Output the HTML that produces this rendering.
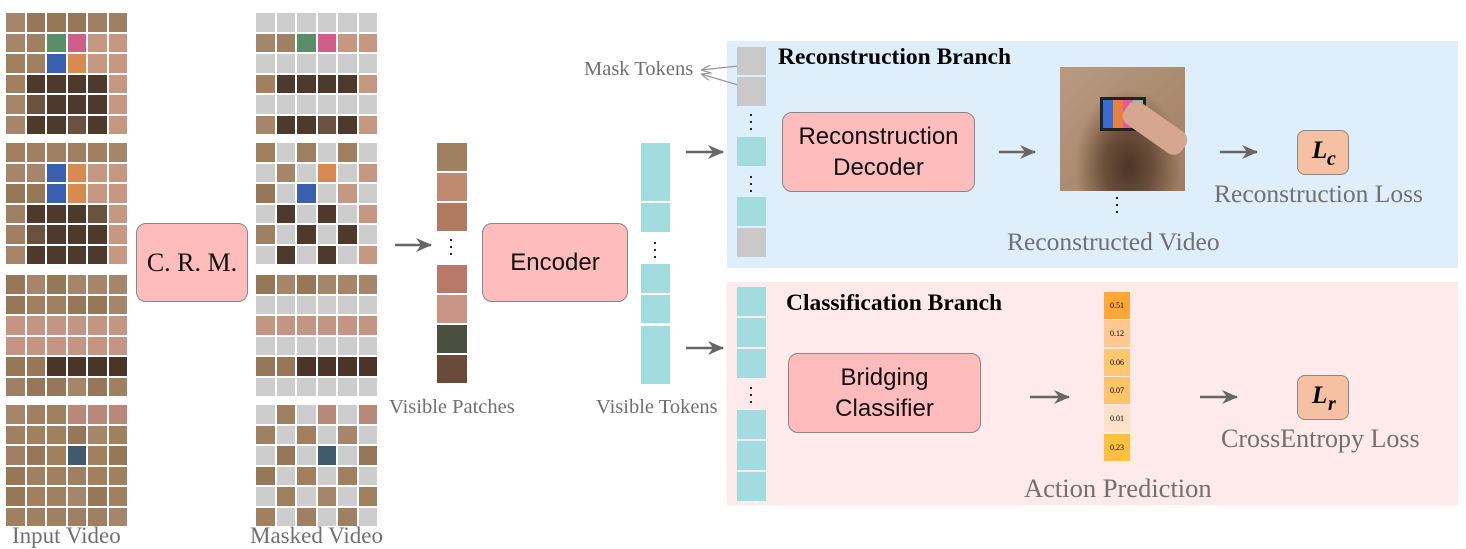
<!DOCTYPE html>
<html><head><meta charset="utf-8"><style>
body{margin:0;width:1466px;height:548px;background:#fff;position:relative;overflow:hidden;font-family:"Liberation Serif",serif}
.a{position:absolute}
.box{position:absolute;background:#ffbcbc;border:1.5px solid #888;border-radius:10px;display:flex;align-items:center;justify-content:center;text-align:center;font-size:24px;color:#111;line-height:31px;box-sizing:border-box;font-family:"Liberation Sans",sans-serif}
.lab{position:absolute;color:#707070;white-space:nowrap}
.c{position:absolute;background:#a3dcdf}
.g{position:absolute;background:#c9c9c9}
.dots{position:absolute;font-size:18px;line-height:7px;color:#000;width:10px;text-align:center}
.L{position:absolute;background:#f5c1a2;border:1.5px solid #888;border-radius:8px;box-sizing:border-box;font-style:italic;font-weight:bold;font-size:25px;color:#000}
</style></head><body>
<div class="a" style="left:727px;top:41px;width:731px;height:227px;background:#deeefb"></div>
<div class="a" style="left:727px;top:282px;width:731px;height:223px;background:#feeaea"></div>
<div id="grids"></div>
<svg class="a" style="left:0;top:0" width="1466" height="548">
<defs><marker id="ah" markerWidth="16" markerHeight="14" refX="15" refY="7" orient="auto" markerUnits="userSpaceOnUse"><path d="M0,0 L16,7 L0,14 L5,7z" fill="#666"/></marker>
<marker id="ah2" markerWidth="10" markerHeight="8" refX="0" refY="4" orient="auto" markerUnits="userSpaceOnUse"><path d="M10,0 L0,4 L10,8" fill="none" stroke="#999" stroke-width="1.2"/></marker></defs>
<g stroke="#666" stroke-width="2.5" marker-end="url(#ah)">
<line x1="395" y1="245" x2="431" y2="245"/><line x1="686" y1="152" x2="723" y2="152"/><line x1="686" y1="348" x2="723" y2="348"/>
<line x1="999" y1="152" x2="1035" y2="152"/><line x1="1220" y1="152" x2="1257" y2="152"/>
<line x1="1030" y1="397" x2="1069" y2="397"/><line x1="1200" y1="397" x2="1237" y2="397"/></g>
<g stroke="#999" stroke-width="1.2" marker-start="url(#ah2)"><line x1="701" y1="70" x2="738" y2="66"/><line x1="701" y1="74" x2="738" y2="85"/></g>
</svg>
<div class="box" style="left:136px;top:223px;width:112px;height:79px;font-family:'Liberation Serif',serif;font-size:26px">C. R. M.</div>
<div class="box" style="left:482px;top:223px;width:146px;height:79px">Encoder</div>
<div class="box" style="left:782px;top:112px;width:193px;height:80px">Reconstruction<br>Decoder</div>
<div class="box" style="left:788px;top:353px;width:193px;height:80px">Bridging<br>Classifier</div>
<div class="L" style="left:1297px;top:130px;width:52px;height:45px"><span class="a" style="left:14px;top:6px">L</span><span class="a" style="left:29px;top:17px;font-size:20px">c</span></div>
<div class="L" style="left:1297px;top:375px;width:52px;height:45px"><span class="a" style="left:14px;top:6px">L</span><span class="a" style="left:30px;top:17px;font-size:20px">r</span></div>
<div class="a" style="left:778px;top:44px;font-weight:bold;font-size:23.5px">Reconstruction Branch</div>
<div class="a" style="left:786px;top:290px;font-weight:bold;font-size:23.5px">Classification Branch</div>
<div class="lab" style="left:584px;top:58px;font-size:20.5px">Mask Tokens</div>
<div class="lab" style="left:389px;top:396px;font-size:20.5px">Visible Patches</div>
<div class="lab" style="left:596px;top:396px;font-size:20.5px">Visible Tokens</div>
<div class="lab" style="left:12px;top:523px;font-size:23px">Input Video</div>
<div class="lab" style="left:250px;top:523px;font-size:23px">Masked Video</div>
<div class="lab" style="left:1007px;top:227px;font-size:25.5px">Reconstructed Video</div>
<div class="lab" style="left:1214px;top:179px;font-size:25.5px">Reconstruction Loss</div>
<div class="lab" style="left:1221px;top:424px;font-size:26px">CrossEntropy Loss</div>
<div class="lab" style="left:1024px;top:473px;font-size:26.5px">Action Prediction</div>
<div class="a" style="left:1060px;top:67px;width:125px;height:124px;background:radial-gradient(ellipse at 55% 80%,#4a3426 0%,#6b4e3a 25%,transparent 55%),linear-gradient(135deg,#b99a80,#a07e62)"></div>
<div class="a" style="left:1100px;top:97px;width:40px;height:28px;background:linear-gradient(90deg,#3a6bd0 25%,#e88040 25% 50%,#e45a9a 50% 75%,#70c8a8 75%);border:3px solid #222"></div>
<div class="a" style="left:1120px;top:115px;width:70px;height:26px;background:#d6a690;transform:rotate(35deg);border-radius:10px"></div>
<div class="dots" style="left:1112px;top:195px">·<br>·<br>·</div>
<div class="g" style="left:737px;top:47px;width:29px;height:28px"></div>
<div class="g" style="left:737px;top:77px;width:29px;height:29px"></div>
<div class="dots" style="left:746px;top:112px">·<br>·<br>·</div>
<div class="c" style="left:737px;top:137px;width:29px;height:29px"></div>
<div class="dots" style="left:746px;top:174px">·<br>·<br>·</div>
<div class="c" style="left:737px;top:197px;width:29px;height:29px"></div>
<div class="g" style="left:737px;top:228px;width:29px;height:29px"></div>
<div class="c" style="left:737px;top:287px;width:29px;height:29px"></div>
<div class="c" style="left:737px;top:318px;width:29px;height:29px"></div>
<div class="c" style="left:737px;top:349px;width:29px;height:29px"></div>
<div class="dots" style="left:746px;top:385px">·<br>·<br>·</div>
<div class="c" style="left:737px;top:410px;width:29px;height:29px"></div>
<div class="c" style="left:737px;top:441px;width:29px;height:29px"></div>
<div class="c" style="left:737px;top:472px;width:29px;height:29px"></div>
<div class="c" style="left:641px;top:143px;width:29px;height:58px"></div>
<div class="c" style="left:641px;top:203px;width:29px;height:29px"></div>
<div class="dots" style="left:650px;top:240px">·<br>·<br>·</div>
<div class="c" style="left:641px;top:264px;width:29px;height:29px"></div>
<div class="c" style="left:641px;top:295px;width:29px;height:28px"></div>
<div class="c" style="left:641px;top:326px;width:29px;height:58px"></div>
<div id="vp"></div>
<div class="dots" style="left:446px;top:237px">·<br>·<br>·</div>
<div id="pred"></div>
<script>
function rnd(s){let x=Math.sin(s*9301+49297)*10000;return x-Math.floor(x);}
const sand=['#9f8062','#a5866a','#967858','#a0805f'];
function col(f,r,c){
  const s=rnd(f*100+r*10+c);
  if(f<2&&r>=3&&c>=1&&c<=4) return s>0.4?'#4e3a2c':'#6b5140';
  if(f<2&&r>=1&&r<=2&&c>=2&&c<=3) return ['#3a5fb0','#d88a50','#d05d8a','#5a8e6a'][Math.floor(s*4)];
  if(f<2&&c>=4&&r>=1) return '#c69882';
  if(f==2&&r>=2&&r<=3) return '#c49582';
  if(f==2&&r==4&&c>=2) return '#4a3528';
  if(f==3&&r==2&&c==3) return '#3f5a6a';
  if(f==3&&(r==0&&c>=3)) return '#b88878';
  return sand[Math.floor(s*4)];
}
function masked(f,r,c){
  if(f==0) return r%2==0;
  if(f==2) return r%2==1;
  if(f==1) return (r+c)%2==1;
  return (r+c)%2==0;
}
const tops=[13,143,275,405];let h='';
for(let f=0;f<4;f++)for(let r=0;r<6;r++)for(let c=0;c<6;c++){
  const y=tops[f]+r*20.5, cl=col(f,r,c);
  h+=`<div class="a" style="left:${6+c*20.5}px;top:${y}px;width:18.5px;height:18.5px;background:${cl}"></div>`;
  h+=`<div class="a" style="left:${256+c*20.5}px;top:${y}px;width:18.5px;height:18.5px;background:${masked(f,r,c)?'#cdcdcd':cl}"></div>`;
}
document.getElementById('grids').innerHTML=h;
const vp=[[143,'#a08060'],[173,'#c08a70'],[203,'#b07a60'],[265,'#b8786a'],[295,'#c89484'],[325,'#4a5040'],[355,'#6a4a38']];
let v='';for(const [y,cl] of vp) v+=`<div class="a" style="left:437px;top:${y}px;width:30px;height:28px;background:${cl}"></div>`;
document.getElementById('vp').innerHTML=v;
const pr=[['0.51','#ffa838'],['0.12','#ffc890'],['0.06','#ffc870'],['0.07','#ffc468'],['0.01','#ffe0c8'],['0.23','#ffc040']];
let p='';pr.forEach((x,i)=>{p+=`<div class="a" style="left:1104px;top:${292+i*28.3}px;width:26px;height:27px;background:${x[1]};font-size:8px;display:flex;align-items:center;justify-content:center">${x[0]}</div>`});
document.getElementById('pred').innerHTML=p;
</script>
</body></html>
